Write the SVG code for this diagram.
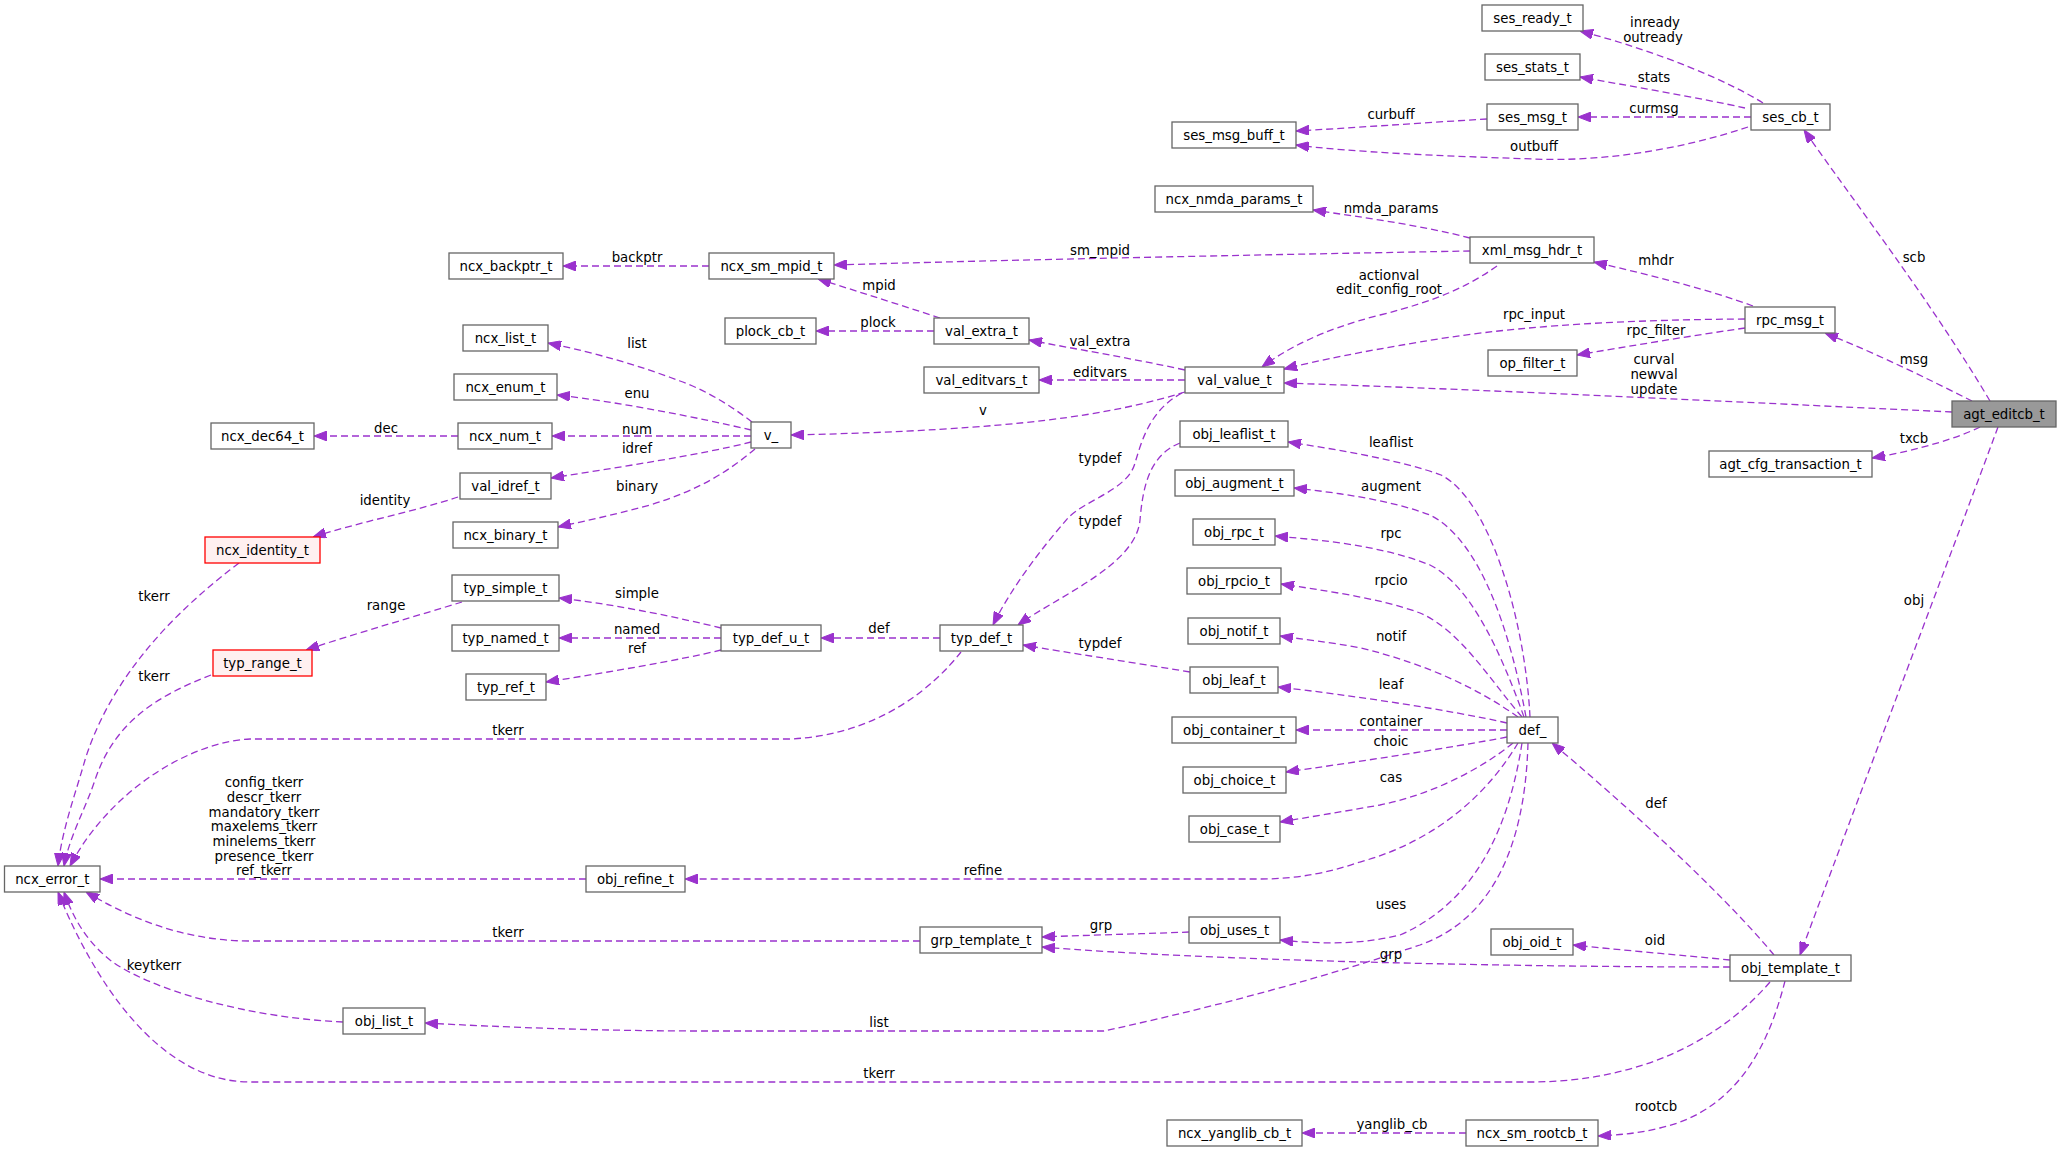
<svg xmlns="http://www.w3.org/2000/svg" width="2061" height="1151" viewBox="0 0 2061 1151">
<style>
.n rect{fill:#ffffff;stroke:#666666;stroke-width:1.3}
.n.r rect{fill:#fff0f0;stroke:#ff0000}
.n.root rect{fill:#999999;stroke:#666666}
text{font-family:"DejaVu Sans","Liberation Sans",sans-serif;font-size:13.3px;fill:#000000;text-anchor:middle}
.e path{fill:none;stroke:#9a32cd;stroke-width:1.3;stroke-dasharray:7,4;marker-end:url(#ah)}
</style>
<defs>
<marker id="ah" markerUnits="userSpaceOnUse" markerWidth="13" markerHeight="10" refX="13" refY="5" orient="auto">
<path d="M0,0 L13,5 L0,10 z" fill="#9a32cd" stroke="#9a32cd" stroke-width="1"/>
</marker>
</defs>
<rect width="2061" height="1151" fill="#ffffff"/>
<g id="edges" class="e">
<path d="M1763,103 C1730,82 1660,52 1580,31"/>
<path d="M1745,108 C1700,98 1630,86 1580,77"/>
<path d="M1751,117 L1578,117"/>
<path d="M1748,127 C1680,150 1600,162 1534,159 C1440,156 1350,152 1296,145"/>
<path d="M1487,119 C1420,123 1350,128 1296,131"/>
<path d="M1470,238 C1420,225 1360,217 1313,210"/>
<path d="M1470,251 C1300,254 1000,260 834,265"/>
<path d="M1497,266 C1470,285 1440,300 1380,315 C1320,330 1285,350 1262,367"/>
<path d="M709,266 L563,266"/>
<path d="M940,318 C900,305 860,292 818,279"/>
<path d="M934,331 L816,331"/>
<path d="M1185,370 C1130,358 1080,350 1029,340"/>
<path d="M1185,380 L1039,380"/>
<path d="M1185,392 C1110,415 1020,430 791,435"/>
<path d="M1182,393 C1150,410 1142,440 1135,463 C1128,490 1085,500 1068,518 C1040,550 1010,590 993,625"/>
<path d="M1753,306 C1710,290 1650,275 1594,262"/>
<path d="M1745,319 C1600,320 1500,328 1420,342 C1360,352 1320,360 1284,369"/>
<path d="M1745,328 C1690,336 1630,346 1577,355"/>
<path d="M1952,412 C1800,405 1500,390 1284,383"/>
<path d="M1972,401 C1930,380 1880,355 1825,333"/>
<path d="M1990,401 C1930,300 1860,210 1804,130"/>
<path d="M1980,427 C1960,437 1920,450 1872,458"/>
<path d="M1998,427 C1960,530 1850,820 1800,955"/>
<path d="M752,422 C730,405 705,390 680,381 C640,366 600,354 548,343"/>
<path d="M751,430 C700,418 620,402 557,395"/>
<path d="M751,436 L552,436"/>
<path d="M751,442 C700,455 620,467 551,478"/>
<path d="M755,449 C730,470 700,490 650,505 C610,516 580,522 558,527"/>
<path d="M458,436 L314,436"/>
<path d="M458,497 C420,510 360,522 313,537"/>
<path d="M239,563 C170,615 110,680 85,760 C75,795 62,830 58,866"/>
<path d="M462,602 C420,615 360,632 306,650"/>
<path d="M211,675 C160,695 115,720 95,780 C85,810 70,835 64,866"/>
<path d="M721,628 C680,618 620,605 559,598"/>
<path d="M721,638 L559,638"/>
<path d="M721,650 C680,660 610,672 546,682"/>
<path d="M940,638 L821,638"/>
<path d="M961,652 C935,685 880,735 790,739 L250,739 C190,742 110,790 70,866"/>
<path d="M1180,443 C1150,455 1143,485 1140,520 C1136,565 1060,595 1018,625"/>
<path d="M1190,672 C1130,662 1070,653 1023,645"/>
<path d="M1530,717 C1525,620 1490,500 1441,475 C1400,460 1340,450 1288,442"/>
<path d="M1526,717 C1510,630 1480,540 1430,515 C1390,500 1340,493 1294,488"/>
<path d="M1524,717 C1500,650 1470,585 1430,565 C1380,545 1320,540 1275,536"/>
<path d="M1522,717 C1490,680 1460,630 1420,613 C1380,598 1320,590 1281,584"/>
<path d="M1518,717 C1480,690 1430,665 1361,648 C1330,642 1300,639 1280,636"/>
<path d="M1507,723 C1450,710 1350,695 1278,687"/>
<path d="M1507,730 L1296,730"/>
<path d="M1507,737 C1450,748 1350,763 1286,772"/>
<path d="M1513,743 C1480,770 1430,795 1380,805 C1340,812 1310,817 1280,822"/>
<path d="M1518,743 C1490,790 1440,840 1360,862 C1330,872 1300,879 1260,879 L685,879"/>
<path d="M1522,743 C1510,820 1480,900 1400,935 C1360,945 1320,944 1280,940"/>
<path d="M1730,967 C1500,967 1200,960 1042,947"/>
<path d="M1528,743 C1525,850 1490,920 1420,945 C1300,985 1200,1010 1104,1031 L700,1031 C600,1031 500,1027 425,1023"/>
<path d="M586,879 L100,879"/>
<path d="M1189,932 C1140,934 1090,935 1042,937"/>
<path d="M920,941 L250,941 C180,941 125,915 86,892"/>
<path d="M343,1022 C250,1018 150,990 110,960 C85,940 72,915 64,892"/>
<path d="M1774,955 C1720,890 1620,800 1552,743"/>
<path d="M1730,960 C1680,955 1620,950 1573,945"/>
<path d="M1770,982 C1720,1040 1640,1082 1530,1082 L250,1082 C150,1082 85,960 58,892"/>
<path d="M1785,981 C1770,1040 1740,1110 1660,1128 C1640,1133 1620,1135 1598,1136"/>
<path d="M1466,1133 L1302,1133"/>
</g>
<g id="edge-labels">
<text x="1655" y="27">inready</text>
<text x="1653" y="42">outready</text>
<text x="1654" y="82">stats</text>
<text x="1654" y="113">curmsg</text>
<text x="1534" y="151">outbuff</text>
<text x="1391" y="119">curbuff</text>
<text x="1391" y="213">nmda_params</text>
<text x="1389" y="280">actionval</text>
<text x="1389" y="294">edit_config_root</text>
<text x="1656" y="265">mhdr</text>
<text x="1534" y="319">rpc_input</text>
<text x="1656" y="335">rpc_filter</text>
<text x="1654" y="364">curval</text>
<text x="1654" y="379">newval</text>
<text x="1654" y="394">update</text>
<text x="1914" y="262">scb</text>
<text x="1914" y="364">msg</text>
<text x="1914" y="443">txcb</text>
<text x="1914" y="605">obj</text>
<text x="637" y="262">backptr</text>
<text x="1100" y="255">sm_mpid</text>
<text x="879" y="290">mpid</text>
<text x="878" y="327">plock</text>
<text x="1100" y="346">val_extra</text>
<text x="1100" y="377">editvars</text>
<text x="637" y="348">list</text>
<text x="637" y="398">enu</text>
<text x="386" y="433">dec</text>
<text x="637" y="434">num</text>
<text x="637" y="453">idref</text>
<text x="637" y="491">binary</text>
<text x="385" y="505">identity</text>
<text x="154" y="601">tkerr</text>
<text x="637" y="598">simple</text>
<text x="386" y="610">range</text>
<text x="637" y="634">named</text>
<text x="637" y="653">ref</text>
<text x="154" y="681">tkerr</text>
<text x="508" y="735">tkerr</text>
<text x="983" y="415">v</text>
<text x="1100" y="463">typdef</text>
<text x="1100" y="526">typdef</text>
<text x="879" y="633">def</text>
<text x="1100" y="648">typdef</text>
<text x="1391" y="447">leaflist</text>
<text x="1391" y="491">augment</text>
<text x="1391" y="538">rpc</text>
<text x="1391" y="585">rpcio</text>
<text x="1391" y="641">notif</text>
<text x="1391" y="689">leaf</text>
<text x="1391" y="726">container</text>
<text x="1391" y="746">choic</text>
<text x="1391" y="782">cas</text>
<text x="1656" y="808">def</text>
<text x="1391" y="909">uses</text>
<text x="1655" y="945">oid</text>
<text x="1391" y="959">grp</text>
<text x="1656" y="1111">rootcb</text>
<text x="1392" y="1129">yanglib_cb</text>
<text x="264" y="787">config_tkerr</text>
<text x="264" y="802">descr_tkerr</text>
<text x="264" y="817">mandatory_tkerr</text>
<text x="264" y="831">maxelems_tkerr</text>
<text x="264" y="846">minelems_tkerr</text>
<text x="264" y="861">presence_tkerr</text>
<text x="264" y="875">ref_tkerr</text>
<text x="508" y="937">tkerr</text>
<text x="154" y="970">keytkerr</text>
<text x="983" y="875">refine</text>
<text x="1101" y="930">grp</text>
<text x="879" y="1027">list</text>
<text x="879" y="1078">tkerr</text>
</g>
<g id="ses_ready_t" class="n"><rect x="1482" y="5" width="101" height="26"/><text x="1532.5" y="22.6">ses_ready_t</text></g>
<g id="ses_stats_t" class="n"><rect x="1485" y="54" width="95" height="26"/><text x="1532.5" y="71.6">ses_stats_t</text></g>
<g id="ses_msg_t" class="n"><rect x="1487" y="104" width="91" height="26"/><text x="1532.5" y="121.6">ses_msg_t</text></g>
<g id="ses_cb_t" class="n"><rect x="1751" y="104" width="79" height="26"/><text x="1790.5" y="121.6">ses_cb_t</text></g>
<g id="ses_msg_buff_t" class="n"><rect x="1172" y="122" width="124" height="26"/><text x="1234" y="139.6">ses_msg_buff_t</text></g>
<g id="ncx_nmda_params_t" class="n"><rect x="1155" y="186" width="158" height="26"/><text x="1234" y="203.6">ncx_nmda_params_t</text></g>
<g id="xml_msg_hdr_t" class="n"><rect x="1470" y="237" width="124" height="26"/><text x="1532" y="254.6">xml_msg_hdr_t</text></g>
<g id="ncx_backptr_t" class="n"><rect x="449" y="253" width="114" height="26"/><text x="506" y="270.6">ncx_backptr_t</text></g>
<g id="ncx_sm_mpid_t" class="n"><rect x="709" y="253" width="125" height="26"/><text x="771.5" y="270.6">ncx_sm_mpid_t</text></g>
<g id="rpc_msg_t" class="n"><rect x="1745" y="307" width="90" height="26"/><text x="1790" y="324.6">rpc_msg_t</text></g>
<g id="plock_cb_t" class="n"><rect x="725" y="318" width="91" height="26"/><text x="770.5" y="335.6">plock_cb_t</text></g>
<g id="val_extra_t" class="n"><rect x="934" y="318" width="95" height="26"/><text x="981.5" y="335.6">val_extra_t</text></g>
<g id="ncx_list_t" class="n"><rect x="463" y="325" width="85" height="26"/><text x="505.5" y="342.6">ncx_list_t</text></g>
<g id="op_filter_t" class="n"><rect x="1488" y="350" width="89" height="26"/><text x="1532.5" y="367.6">op_filter_t</text></g>
<g id="val_editvars_t" class="n"><rect x="924" y="367" width="115" height="26"/><text x="981.5" y="384.6">val_editvars_t</text></g>
<g id="val_value_t" class="n"><rect x="1185" y="367" width="99" height="26"/><text x="1234.5" y="384.6">val_value_t</text></g>
<g id="ncx_enum_t" class="n"><rect x="454" y="374" width="103" height="26"/><text x="505.5" y="391.6">ncx_enum_t</text></g>
<g id="agt_editcb_t" class="n root"><rect x="1952" y="401" width="104" height="26"/><text x="2004" y="418.6">agt_editcb_t</text></g>
<g id="v_" class="n"><rect x="751" y="422" width="40" height="26"/><text x="771" y="439.6">v_</text></g>
<g id="obj_leaflist_t" class="n"><rect x="1180" y="421" width="108" height="26"/><text x="1234" y="438.6">obj_leaflist_t</text></g>
<g id="ncx_dec64_t" class="n"><rect x="211" y="423" width="103" height="26"/><text x="262.5" y="440.6">ncx_dec64_t</text></g>
<g id="ncx_num_t" class="n"><rect x="458" y="423" width="94" height="26"/><text x="505" y="440.6">ncx_num_t</text></g>
<g id="agt_cfg_transaction_t" class="n"><rect x="1709" y="451" width="163" height="26"/><text x="1790.5" y="468.6">agt_cfg_transaction_t</text></g>
<g id="obj_augment_t" class="n"><rect x="1175" y="470" width="119" height="26"/><text x="1234.5" y="487.6">obj_augment_t</text></g>
<g id="val_idref_t" class="n"><rect x="460" y="473" width="91" height="26"/><text x="505.5" y="490.6">val_idref_t</text></g>
<g id="obj_rpc_t" class="n"><rect x="1193" y="519" width="82" height="26"/><text x="1234" y="536.6">obj_rpc_t</text></g>
<g id="ncx_binary_t" class="n"><rect x="453" y="522" width="105" height="26"/><text x="505.5" y="539.6">ncx_binary_t</text></g>
<g id="ncx_identity_t" class="n r"><rect x="205" y="537" width="115" height="26"/><text x="262.5" y="554.6">ncx_identity_t</text></g>
<g id="obj_rpcio_t" class="n"><rect x="1187" y="568" width="94" height="26"/><text x="1234" y="585.6">obj_rpcio_t</text></g>
<g id="typ_simple_t" class="n"><rect x="452" y="575" width="107" height="26"/><text x="505.5" y="592.6">typ_simple_t</text></g>
<g id="obj_notif_t" class="n"><rect x="1188" y="618" width="92" height="26"/><text x="1234" y="635.6">obj_notif_t</text></g>
<g id="typ_named_t" class="n"><rect x="452" y="625" width="107" height="26"/><text x="505.5" y="642.6">typ_named_t</text></g>
<g id="typ_def_u_t" class="n"><rect x="721" y="625" width="100" height="26"/><text x="771" y="642.6">typ_def_u_t</text></g>
<g id="typ_def_t" class="n"><rect x="940" y="625" width="83" height="26"/><text x="981.5" y="642.6">typ_def_t</text></g>
<g id="typ_range_t" class="n r"><rect x="213" y="650" width="99" height="26"/><text x="262.5" y="667.6">typ_range_t</text></g>
<g id="obj_leaf_t" class="n"><rect x="1190" y="667" width="88" height="26"/><text x="1234" y="684.6">obj_leaf_t</text></g>
<g id="typ_ref_t" class="n"><rect x="466" y="674" width="80" height="26"/><text x="506" y="691.6">typ_ref_t</text></g>
<g id="obj_container_t" class="n"><rect x="1172" y="717" width="124" height="26"/><text x="1234" y="734.6">obj_container_t</text></g>
<g id="def_" class="n"><rect x="1507" y="717" width="51" height="26"/><text x="1532.5" y="734.6">def_</text></g>
<g id="obj_choice_t" class="n"><rect x="1183" y="767" width="103" height="26"/><text x="1234.5" y="784.6">obj_choice_t</text></g>
<g id="obj_case_t" class="n"><rect x="1189" y="816" width="91" height="26"/><text x="1234.5" y="833.6">obj_case_t</text></g>
<g id="ncx_error_t" class="n"><rect x="4.5" y="866" width="95.5" height="26"/><text x="52.3" y="883.6">ncx_error_t</text></g>
<g id="obj_refine_t" class="n"><rect x="586" y="866" width="99" height="26"/><text x="635.5" y="883.6">obj_refine_t</text></g>
<g id="obj_uses_t" class="n"><rect x="1189" y="917" width="91" height="26"/><text x="1234.5" y="934.6">obj_uses_t</text></g>
<g id="grp_template_t" class="n"><rect x="920" y="927" width="122" height="26"/><text x="981" y="944.6">grp_template_t</text></g>
<g id="obj_oid_t" class="n"><rect x="1491" y="929" width="82" height="26"/><text x="1532" y="946.6">obj_oid_t</text></g>
<g id="obj_template_t" class="n"><rect x="1730" y="955" width="121" height="26"/><text x="1790.5" y="972.6">obj_template_t</text></g>
<g id="obj_list_t" class="n"><rect x="343" y="1008" width="82" height="26"/><text x="384" y="1025.6">obj_list_t</text></g>
<g id="ncx_yanglib_cb_t" class="n"><rect x="1167" y="1120" width="135" height="26"/><text x="1234.5" y="1137.6">ncx_yanglib_cb_t</text></g>
<g id="ncx_sm_rootcb_t" class="n"><rect x="1466" y="1120" width="132" height="26"/><text x="1532" y="1137.6">ncx_sm_rootcb_t</text></g>
</svg>
